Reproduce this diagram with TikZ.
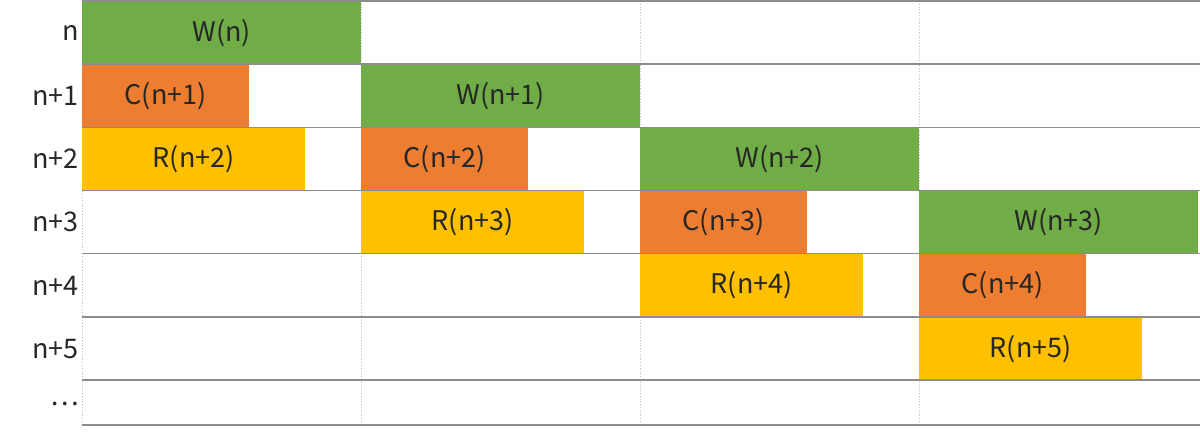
\documentclass[tikz,border=0pt]{standalone}
\usepackage{fontspec}
\setmainfont{Noto Sans CJK JP}
\definecolor{wgreen}{HTML}{70AD47}
\definecolor{corange}{HTML}{ED7D31}
\definecolor{ryellow}{HTML}{FFC000}
\definecolor{hline}{HTML}{8C8C8C}
\definecolor{vline}{HTML}{BFBFBF}
\begin{document}
\begin{tikzpicture}[x=1pt,y=-1pt,
  bar/.style={rectangle,anchor=north west,inner sep=0pt,minimum height=63.2pt,
    font=\fontsize{27}{30}\selectfont,text=black!85},
  wbar/.style={bar,fill=wgreen,minimum width=279pt},
  cbar/.style={bar,fill=corange,minimum width=167pt},
  rbar/.style={bar,fill=ryellow,minimum width=223pt},
  rowlab/.style={anchor=east,inner sep=0pt,font=\fontsize{27}{30}\selectfont,text=black!85},
  hgrid/.style={draw=hline,line width=1.4pt},
  vgrid/.style={draw=vline,line width=0.8pt,dotted}]
\useasboundingbox (0,0) rectangle (1200,438);
% vertical dotted grid
\foreach \c in {0,1,2,3}{
  \coordinate (vt\c) at (82+279*\c,1);
  \coordinate (vb\c) at (82+279*\c,425);
  \draw[vgrid] (vt\c) -- (vb\c);
}
% bars
\foreach \k in {0,1,2,3}{
  \pgfmathtruncatemacro{\ka}{\k+1}
  \pgfmathtruncatemacro{\kb}{\k+2}
  \ifnum\k=0
    \node[wbar] (w\k) at (82+279*\k,1+63.2*\k) {W(n)};
  \else
    \node[wbar] (w\k) at (82+279*\k,1+63.2*\k) {W(n+\k)};
  \fi
  \node[cbar] (c\ka) at (82+279*\k,1+63.2*\ka) {C(n+\ka)};
  \node[rbar] (r\kb) at (82+279*\k,1+63.2*\kb) {R(n+\kb)};
}
% horizontal grid
\foreach \r in {0,...,6}{
  \coordinate (hl\r) at (82,1+63.2*\r);
  \coordinate (hr\r) at (1200,1+63.2*\r);
  \draw[hgrid] (hl\r) -- (hr\r);
}
\coordinate (hl7) at (82,425);
\coordinate (hr7) at (1200,425);
\draw[hgrid] (hl7) -- (hr7);
% row labels
\node[rowlab] (l0) at (79,1+63.2*0.5) {n};
\foreach \r in {1,...,5}{
  \node[rowlab] (l\r) at (79,1+63.2*\r+31.6) {n+\r};
}
\node[rowlab] (l6) at (79,404) {…};
\end{tikzpicture}
\end{document}
